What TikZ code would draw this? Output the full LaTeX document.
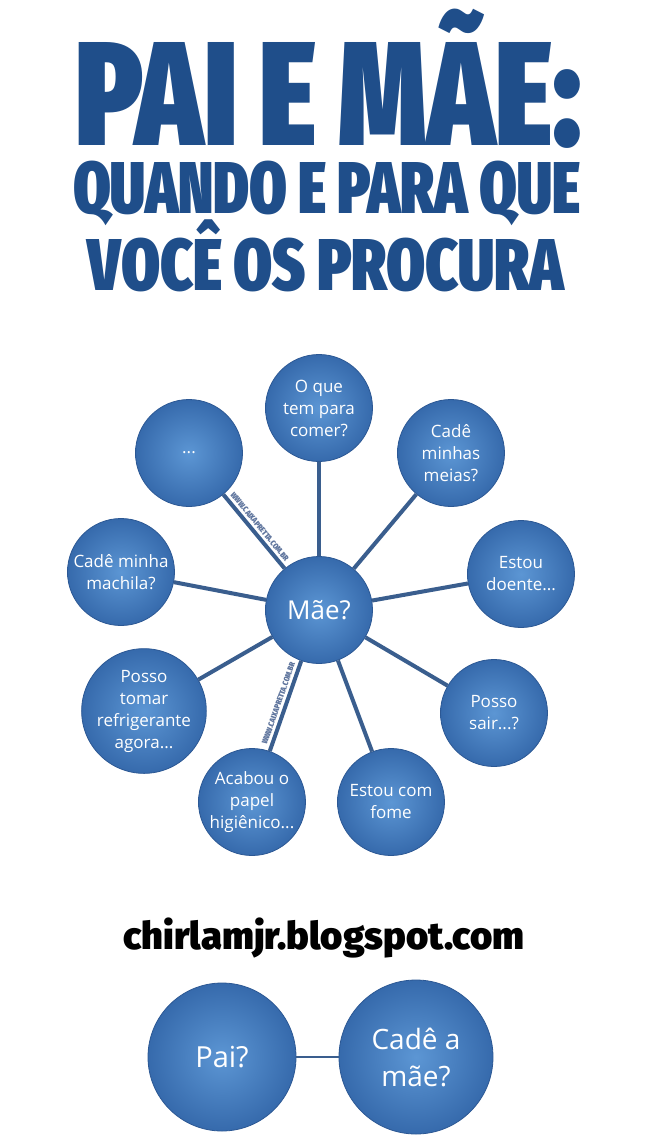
\documentclass[tikz,border=0pt]{standalone}
\usepackage{fontspec}
\usepackage{graphicx}
\setmainfont{Open Sans}
\IfFontExistsTF{Fira Sans Extra Condensed Black}{\newfontfamily\titlefont{Fira Sans Extra Condensed Black}}{%
 \IfFontExistsTF{Fira Sans Condensed Black}{\newfontfamily\titlefont{Fira Sans Condensed Black}}{%
  \IfFontExistsTF{Fira Sans Heavy}{\newfontfamily\titlefont{Fira Sans Heavy}}{%
   \IfFontExistsTF{Fira Sans Black}{\newfontfamily\titlefont{Fira Sans Black}}{%
    \newfontfamily\titlefont{Liberation Sans Bold}}}}}
\IfFontExistsTF{Fira Sans Black}{\newfontfamily\urlfont{Fira Sans Black}}{%
 \IfFontExistsTF{Fira Sans Heavy}{\newfontfamily\urlfont{Fira Sans Heavy}}{%
  \newfontfamily\urlfont{Liberation Sans Bold}}}
\definecolor{titleblue}{RGB}{31,78,138}
\definecolor{bubin}{RGB}{92,150,212}
\definecolor{bubout}{RGB}{54,106,172}
\definecolor{bubrim}{RGB}{44,88,148}
\definecolor{spokecol}{RGB}{58,94,142}
\definecolor{wmcol}{RGB}{96,118,158}
\newcommand{\fitbox}[3]{\resizebox{#1}{#2}{\smash{#3}\vphantom{E}}}
\tikzset{
  bubble/.style={circle, minimum size=107pt, inner sep=0pt, shading=radial,
    inner color=bubin, outer color=bubout, draw=bubrim, line width=0.8pt,
    text=white, font=\fontsize{17}{22}\selectfont, align=center},
  bigbubble/.style={bubble, font=\fontsize{29}{37}\selectfont},
  spoke/.style={draw=spokecol, line width=4pt},
  thinspoke/.style={draw=spokecol, line width=1.8pt},
  wm/.style={font=\titlefont\fontsize{8}{8}\selectfont, text=wmcol, inner sep=1pt},
  titletext/.style={text=titleblue, inner sep=0pt, anchor=base, font=\titlefont\fontsize{72}{72}\selectfont}
}
\begin{document}
\begin{tikzpicture}[x=1pt,y=-1pt]
\useasboundingbox (0,0) rectangle (650,1138);
\fill[white] (0,0) rectangle (650,1138);
% title
\node[titletext] (t1) at (329,145) {\fitbox{506pt}{103pt}{PAI E MÃE:}};
\node[titletext] (t2) at (326.5,213) {\fitbox{507pt}{51pt}{QUANDO E PARA QUE}};
\node[titletext] (t3) at (326,290) {\fitbox{476pt}{51pt}{VOCÊ OS PROCURA}};
% mind map
\node[bubble, font=\fontsize{26}{30}\selectfont] (mae) at (319,610) {Mãe?};
\node[bubble] (oque) at (319,408) {O que\\tem para\\comer?};
\node[bubble] (dots) at (189,453) {...};
\node[bubble] (meias) at (451,453) {Cadê\\minhas\\meias?};
\node[bubble] (doente) at (521,574) {Estou\\doente...};
\node[bubble] (machila) at (121,572) {Cadê minha\\machila?};
\node[bubble] (tomar) at (144,711) {Posso\\tomar\\refrigerante\\agora...};
\node[bubble] (sair) at (494,713) {Posso\\sair...?};
\node[bubble] (acabou) at (252,802) {Acabou o\\papel\\higiênico...};
\node[bubble] (fome) at (391,802) {Estou com\\fome};
\draw[spoke] (mae) -- (oque);
\draw[spoke] (mae) -- (meias);
\draw[spoke] (mae) -- (doente);
\draw[spoke] (mae) -- (sair);
\draw[spoke] (mae) -- (fome);
\draw[spoke] (mae) -- (tomar);
\draw[spoke] (mae) -- (machila);
\draw[spoke] (dots) -- node[sloped, above=1.5pt, wm] {WWW.CAIXAPRETTA.COM.BR} (mae);
\draw[spoke] (acabou) -- node[sloped, above=1.5pt, wm] {WWW.CAIXAPRETTA.COM.BR} (mae);
% url
\node[anchor=base, inner sep=0pt] (url) at (324,949) {\urlfont\fontsize{34}{34}\selectfont\resizebox{401pt}{!}{chirlamjr.blogspot.com}};
% bottom
\node[bigbubble, minimum size=148pt] (pai) at (222,1057) {Pai?};
\node[bigbubble, minimum size=154pt, font=\fontsize{28}{37}\selectfont] (cade) at (416,1057) {Cadê a\\mãe?};
\draw[thinspoke] (pai) -- (cade);
\end{tikzpicture}
\end{document}
